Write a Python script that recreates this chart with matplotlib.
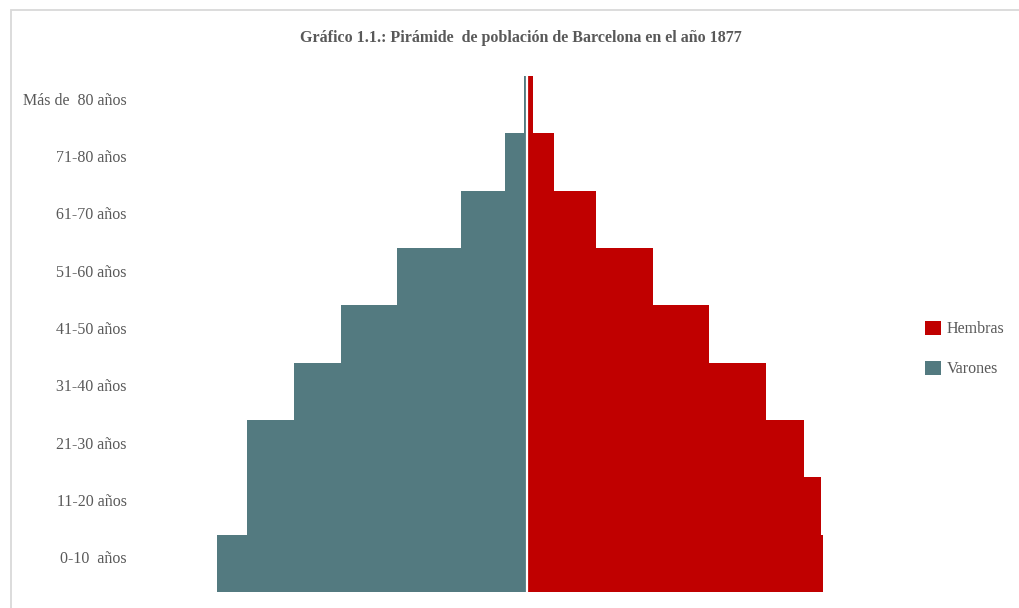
import numpy as np
import matplotlib.pyplot as plt
import matplotlib.transforms as mtransforms
from matplotlib.patches import Rectangle

# age groups, bottom to top
grupos = ['0-10  años', '11-20 años', '21-30 años', '31-40 años', '41-50 años',
          '51-60 años', '61-70 años', '71-80 años', 'Más de  80 años']
# estimated population per group
varones = [24800, 22400, 22400, 18650, 14900, 10400, 5300, 1750, 250]
hembras = [23700, 23500, 22150, 19100, 14550, 10100, 5500, 2150, 480]

color_var = '#537a80'
color_hem = '#c00000'
gris = '#595959'

plt.rcParams['font.family'] = ['Liberation Serif', 'DejaVu Serif']

fig = plt.figure(figsize=(10.19, 6.08), dpi=100)
W, H = 1019, 608

# chart frame like the spreadsheet original
fig.patches.append(Rectangle((10.5 / W, -0.1), 1.2, (H - 10.5) / H + 0.1,
                             transform=fig.transFigure, fill=False,
                             edgecolor='#d9d9d9', linewidth=1.3))

ax = fig.add_axes([139.5 / W, 16 / H, 775 / W, 516 / H])
y = np.arange(len(grupos))
ax.barh(y, -np.array(varones), height=1.0, color=color_var,
        edgecolor='none', label='Varones')
ax.barh(y, hembras, height=1.0, color=color_hem,
        edgecolor='none', label='Hembras')
ax.axvline(0, color='white', linewidth=1.6)

ax.set_xlim(-31000, 31000)
ax.set_ylim(-0.5, len(grupos) - 0.5)
ax.set_yticks(y)
ax.set_yticklabels(grupos, fontsize=11.5, color=gris)
ax.set_xticks([])
ax.tick_params(axis='y', length=0, pad=9)
# labels sit a little above the band centre, as in the original
off = mtransforms.ScaledTranslation(0, 6 / 100, fig.dpi_scale_trans)
for lab in ax.get_yticklabels():
    lab.set_transform(lab.get_transform() + off)
for s in ax.spines.values():
    s.set_visible(False)

fig.text(521 / W, 1 - 38 / H, 'Gráfico 1.1.: Pirámide  de población de Barcelona en el año 1877',
         ha='center', va='center', fontsize=11.5, fontweight='bold', color=gris)

handles, labels = ax.get_legend_handles_labels()
leg = fig.legend(handles[::-1], labels[::-1], loc='center left',
                 bbox_to_anchor=(911 / W, 1 - 349 / H), frameon=False,
                 fontsize=11.5, handlelength=1.0, handleheight=1.0,
                 handletextpad=0.35, labelspacing=1.45)
for t in leg.get_texts():
    t.set_color(gris)

fig.savefig('out.png', dpi=100)
